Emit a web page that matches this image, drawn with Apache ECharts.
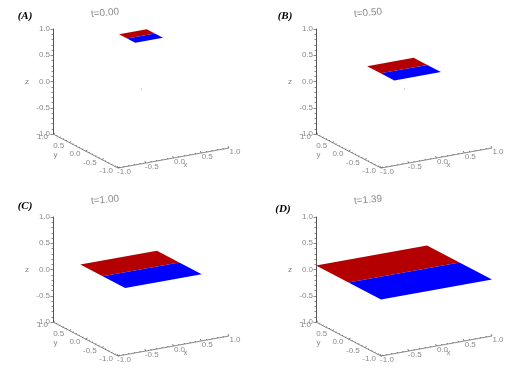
<!DOCTYPE html>
<html>
<head>
<meta charset="utf-8">
<style>
  html, body { margin: 0; padding: 0; background: #fff; }
  #chart { width: 526px; height: 376px; }
</style>
<script src="https://cdn.jsdelivr.net/npm/echarts@6/dist/echarts.min.js"></script>
</head>
<body>
<div id="chart"></div>
<script>
// values
const panelNames = ['(A)', '(B)', '(C)', '(D)'];
const times = ['t=0.00', 't=0.50', 't=1.00', 't=1.39'];
const halfWidths = [0.25, 0.42, 0.69, 1.0];
const heights = [1.0, 0.37, 0.137, 0.076];
const xTicks = [-1, -0.5, 0, 0.5, 1];
const yTicks = [1, 0.5, 0, -0.5, -1];
const origin = [0, 0, 0];

const RED = '#b40000';
const BLUE = '#0000ff';
const INK = '#555';
const TEXT = '#8a8a8a';
const FONT = 'Liberation Sans';

// panel frame in pixels: z axis and floor width
const OFF_X = 263, OFF_Y = 188;
const BOX_LEFT = 53, BOX_TOP = 29, BOX_W = 176, BOX_H = 105;
// floor edge vectors, in pixels
const XV = [111, -20], YV = [65, 34];
const Z_PX = BOX_H / 2;

// 3d -> axis values of the panel's grid
function project(x, y, z) {
  const xf = (x + 1) / 2, yf = (1 - y) / 2;
  return [
    (xf * XV[0] + yf * YV[0]) / BOX_W,
    z - (xf * XV[1] + yf * YV[1]) / Z_PX
  ];
}

const textStyle = (text, x, y, align) => ({
  text, x, y, align: align || 'center', verticalAlign: 'middle',
  fill: TEXT, font: '8px "' + FONT + '"'
});

// plate, one patch per colour
function renderPlate(params, api) {
  const x0 = api.value(0), x1 = api.value(1), y0 = api.value(2), y1 = api.value(3), z = api.value(4);
  const corners = [[x0, y0], [x1, y0], [x1, y1], [x0, y1]];
  return {
    type: 'polygon',
    shape: { points: corners.map(c => api.coord(project(c[0], c[1], z))) },
    style: api.style()
  };
}

function renderOrigin(params, api) {
  const p = api.coord(project(api.value(0), api.value(1), api.value(2)));
  return { type: 'rect', shape: { x: p[0], y: p[1], width: 1, height: 1 }, style: { fill: '#b5b5b5' } };
}

function tickLine(a, b) {
  return {
    type: 'line',
    shape: { x1: a[0], y1: a[1], x2: b[0], y2: b[1] },
    style: { stroke: INK, lineWidth: 0.7 }
  };
}

// slanted axis along x (front edge, y=-1)
function renderXAxis(params, api) {
  const v = api.value(0);
  const p = api.coord(project(v, -1, -1));
  const children = [tickLine(p, [p[0] - 1, p[1] - 2])];
  if (params.dataIndex === 0) {
    children.push(tickLine(p, api.coord(project(1, -1, -1))));
    const mid = api.coord(project(0, -1, -1));
    children.push({ type: 'text', style: textStyle('x', mid[0] + 12, mid[1] + 7) });
  }
  children.push({ type: 'text', style: textStyle(v.toFixed(1), p[0] + 6, p[1] + 4) });
  if (v < 1) {
    for (let k = 1; k < 5; k++) {
      const q = api.coord(project(v + k * 0.1, -1, -1));
      children.push(tickLine(q, [q[0] - 0.5, q[1] - 1]));
    }
  }
  return { type: 'group', children };
}

// slanted axis along y (left edge, x=-1)
function renderYAxis(params, api) {
  const v = api.value(0);
  const p = api.coord(project(-1, v, -1));
  const children = [tickLine(p, [p[0] + 2, p[1] - 1])];
  if (params.dataIndex === 0) {
    children.push(tickLine(p, api.coord(project(-1, -1, -1))));
    const mid = api.coord(project(-1, 0, -1));
    children.push({ type: 'text', style: textStyle('y', mid[0] - 30, mid[1] + 4) });
  }
  children.push({ type: 'text', style: textStyle(v.toFixed(1), p[0] - 5, p[1] + 3, 'right') });
  if (v > -1) {
    for (let k = 1; k < 5; k++) {
      const q = api.coord(project(-1, v - k * 0.1, -1));
      children.push(tickLine(q, [q[0] + 1, q[1] - 0.5]));
    }
  }
  return { type: 'group', children };
}

const grids = [], xAxes = [], yAxes = [], series = [], graphics = [];
const labelPos = [[25, 16], [285, 16], [25, 206], [283, 209]];

panelNames.forEach((name, i) => {
  const ox = (i % 2) * OFF_X, oy = Math.floor(i / 2) * OFF_Y;
  grids.push({ left: BOX_LEFT + ox, top: BOX_TOP + oy, width: BOX_W, height: BOX_H });
  xAxes.push({ gridIndex: i, type: 'value', min: 0, max: 1, show: false });
  yAxes.push({
    gridIndex: i, type: 'value', min: -1, max: 1, interval: 0.5,
    name: 'z', nameLocation: 'middle', nameGap: 24, nameRotate: 0,
    nameTextStyle: { color: TEXT, fontSize: 8, fontFamily: FONT },
    axisLine: { show: true, lineStyle: { color: INK, width: 1 } },
    axisTick: { show: true, length: 2.5, lineStyle: { color: INK, width: 0.7 } },
    minorTick: { show: true, splitNumber: 5, length: 1.5, lineStyle: { color: INK, width: 0.7 } },
    splitLine: { show: false },
    axisLabel: { color: TEXT, fontSize: 8, fontFamily: FONT, margin: 3, formatter: v => v.toFixed(1) }
  });

  const axisRef = { xAxisIndex: i, yAxisIndex: i, coordinateSystem: 'cartesian2d', silent: true };
  const h = halfWidths[i], z = heights[i];
  series.push(
    { type: 'custom', ...axisRef, renderItem: renderXAxis, data: xTicks.map(v => [v]), encode: { x: -1, y: -1 } },
    { type: 'custom', ...axisRef, renderItem: renderYAxis, data: yTicks.map(v => [v]), encode: { x: -1, y: -1 } },
    { type: 'custom', ...axisRef, renderItem: renderOrigin, data: [origin], encode: { x: -1, y: -1 } },
    { type: 'custom', ...axisRef, renderItem: renderPlate, itemStyle: { color: RED },
      data: [[-h, h, 0, h, z]], encode: { x: -1, y: -1 } },
    { type: 'custom', ...axisRef, renderItem: renderPlate, itemStyle: { color: BLUE },
      data: [[-h, h, -h, 0, z]], encode: { x: -1, y: -1 } }
  );

  graphics.push(
    { type: 'text', x: labelPos[i][0], y: labelPos[i][1],
      style: { text: name, align: 'center', verticalAlign: 'middle', fill: '#000',
        font: 'italic bold 11px "Liberation Serif"' } },
    { type: 'text', x: 105 + ox, y: (i < 2 ? 13 : 12) + oy, rotation: 0.09,
      style: { text: times[i], align: 'center', verticalAlign: 'middle', fill: TEXT,
        font: '10px "' + FONT + '"' } }
  );
});

const chart = echarts.init(document.getElementById('chart'), null, { renderer: 'canvas' });
chart.setOption({
  animation: false,
  backgroundColor: '#fff',
  grid: grids,
  xAxis: xAxes,
  yAxis: yAxes,
  series,
  graphic: graphics
});
</script>
</body>
</html>
